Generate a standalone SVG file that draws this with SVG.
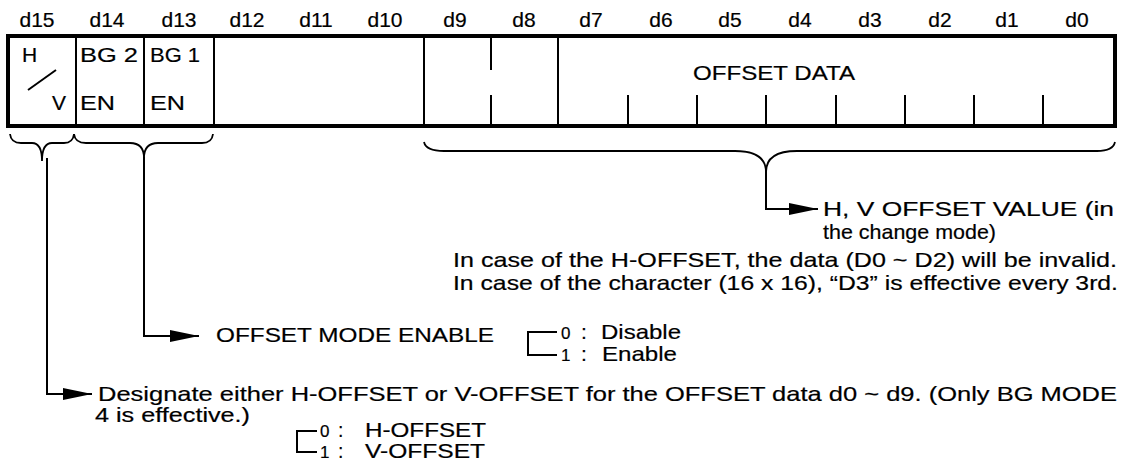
<svg xmlns="http://www.w3.org/2000/svg" width="1125" height="468" viewBox="0 0 1125 468">
<defs>
<marker id="arr" viewBox="0 0 29 12" refX="29" refY="6" markerWidth="29" markerHeight="12" markerUnits="userSpaceOnUse" orient="auto">
<path d="M0,0 L29,6 L0,12 z" fill="#000"/>
</marker>
<style>
text{font-family:"Liberation Sans",Arial,Helvetica,sans-serif;fill:#000;stroke:#000;stroke-width:0.2px;font-size:21px}
.bit{text-anchor:middle;font-size:21px}
.dig{font-size:17px}
.sm{font-size:19.5px}
.box{fill:#fff;stroke:#000;stroke-width:4}
.div{stroke:#000;stroke-width:2;fill:none}
.con{stroke:#000;stroke-width:2;fill:none}
.brace{stroke:#000;stroke-width:1.8;fill:none}
</style>
</defs>
<rect width="1125" height="468" fill="#fff"/>

<g id="bit-labels">
<text class="bit" x="37" y="27">d15</text>
<text class="bit" x="107" y="27">d14</text>
<text class="bit" x="179" y="27">d13</text>
<text class="bit" x="247" y="27">d12</text>
<text class="bit" x="316" y="27">d11</text>
<text class="bit" x="385" y="27">d10</text>
<text class="bit" x="455" y="27">d9</text>
<text class="bit" x="524" y="27">d8</text>
<text class="bit" x="591" y="27">d7</text>
<text class="bit" x="661" y="27">d6</text>
<text class="bit" x="730" y="27">d5</text>
<text class="bit" x="800" y="27">d4</text>
<text class="bit" x="870" y="27">d3</text>
<text class="bit" x="940" y="27">d2</text>
<text class="bit" x="1007" y="27">d1</text>
<text class="bit" x="1077" y="27">d0</text>
</g>

<g id="register">
<rect class="box" x="8" y="36" width="1107" height="90"/>
<g id="cell-d15">
<text x="22" y="62">H</text>
<line class="div" x1="28" y1="90" x2="56" y2="70"/>
<text x="52" y="110">V</text>
<line class="div" x1="76" y1="36" x2="76" y2="126"/>
</g>
<g id="cell-d14">
<text x="80" y="62" textLength="58" lengthAdjust="spacingAndGlyphs">BG 2</text>
<text x="80" y="110" textLength="35" lengthAdjust="spacingAndGlyphs">EN</text>
<line class="div" x1="144" y1="36" x2="144" y2="126"/>
</g>
<g id="cell-d13">
<text x="150" y="62" textLength="50" lengthAdjust="spacingAndGlyphs">BG 1</text>
<text x="150" y="110" textLength="35" lengthAdjust="spacingAndGlyphs">EN</text>
<line class="div" x1="214" y1="36" x2="214" y2="126"/>
</g>
<g id="cell-d12-d10">
<line class="div" x1="424" y1="36" x2="424" y2="126"/>
</g>
<g id="cell-d9-d8">
<line class="div" x1="491" y1="36" x2="491" y2="70"/>
<line class="div" x1="491" y1="95" x2="491" y2="126"/>
<line class="div" x1="558" y1="36" x2="558" y2="126"/>
</g>
<g id="cell-d7-d0">
<text x="693" y="80" textLength="162" lengthAdjust="spacingAndGlyphs">OFFSET DATA</text>
<line class="div" x1="628" y1="95" x2="628" y2="126"/>
<line class="div" x1="697" y1="95" x2="697" y2="126"/>
<line class="div" x1="766" y1="95" x2="766" y2="126"/>
<line class="div" x1="836" y1="95" x2="836" y2="126"/>
<line class="div" x1="905" y1="95" x2="905" y2="126"/>
<line class="div" x1="974" y1="95" x2="974" y2="126"/>
<line class="div" x1="1043" y1="95" x2="1043" y2="126"/>
</g>
</g>

<g id="connectors">
<path class="brace" d="M10,134 Q11,143 21,143 L32,143 Q42,143 42,161 Q42,143 52,143 L64,143 Q73,143 74,134"/>
<path class="brace" d="M74,134 Q75,143 86,143 L130,143 Q144,143 144,158 Q144,143 158,143 L202,143 Q212,143 213,134"/>
<path class="brace" d="M424,142 Q426,151 444,151 L735,151 Q766,151 766,172 Q766,151 797,151 L1097,151 Q1113,151 1115,142"/>
<path class="con" d="M766,171 L766,209 L818,209" marker-end="url(#arr)"/>
<path class="con" d="M144,157 L144,336 L199,336" marker-end="url(#arr)"/>
<path class="con" d="M47,158 L47,394 L92,394" marker-end="url(#arr)"/>
<path class="con" d="M557,332 L528,332 L528,355 L557,355"/>
<path class="con" d="M317,431 L297,431 L297,452 L317,452"/>
</g>

<g id="note-offset-value">
<text x="823" y="216" textLength="291" lengthAdjust="spacingAndGlyphs">H, V OFFSET VALUE (in</text>
<text x="823" y="239" textLength="173" lengthAdjust="spacingAndGlyphs">the change mode)</text>
<text x="453" y="267" textLength="664" lengthAdjust="spacingAndGlyphs">In case of the H-OFFSET, the data (D0 ~ D2) will be invalid.</text>
<text x="453" y="290" textLength="665" lengthAdjust="spacingAndGlyphs">In case of the character (16 x 16), “D3” is effective every 3rd.</text>
</g>

<g id="note-mode-enable">
<text x="216" y="342" textLength="278" lengthAdjust="spacingAndGlyphs">OFFSET MODE ENABLE</text>
<text x="561" y="339"><tspan class="dig">0</tspan><tspan x="581">:</tspan><tspan x="601" textLength="80" lengthAdjust="spacingAndGlyphs">Disable</tspan></text>
<text x="561" y="361"><tspan class="dig">1</tspan><tspan x="581">:</tspan><tspan x="602" textLength="75" lengthAdjust="spacingAndGlyphs">Enable</tspan></text>
</g>

<g id="note-hv-select">
<text x="98" y="401" textLength="1019" lengthAdjust="spacingAndGlyphs">Designate either H-OFFSET or V-OFFSET for the OFFSET data d0 ~ d9. (Only BG MODE</text>
<text class="sm" x="95" y="422" textLength="155" lengthAdjust="spacingAndGlyphs">4 is effective.)</text>
<text class="sm" x="320" y="437"><tspan class="dig">0</tspan><tspan x="338">:</tspan><tspan x="365" textLength="121" lengthAdjust="spacingAndGlyphs">H-OFFSET</tspan></text>
<text class="sm" x="320" y="458"><tspan class="dig">1</tspan><tspan x="338">:</tspan><tspan x="365" textLength="120" lengthAdjust="spacingAndGlyphs">V-OFFSET</tspan></text>
</g>
</svg>
